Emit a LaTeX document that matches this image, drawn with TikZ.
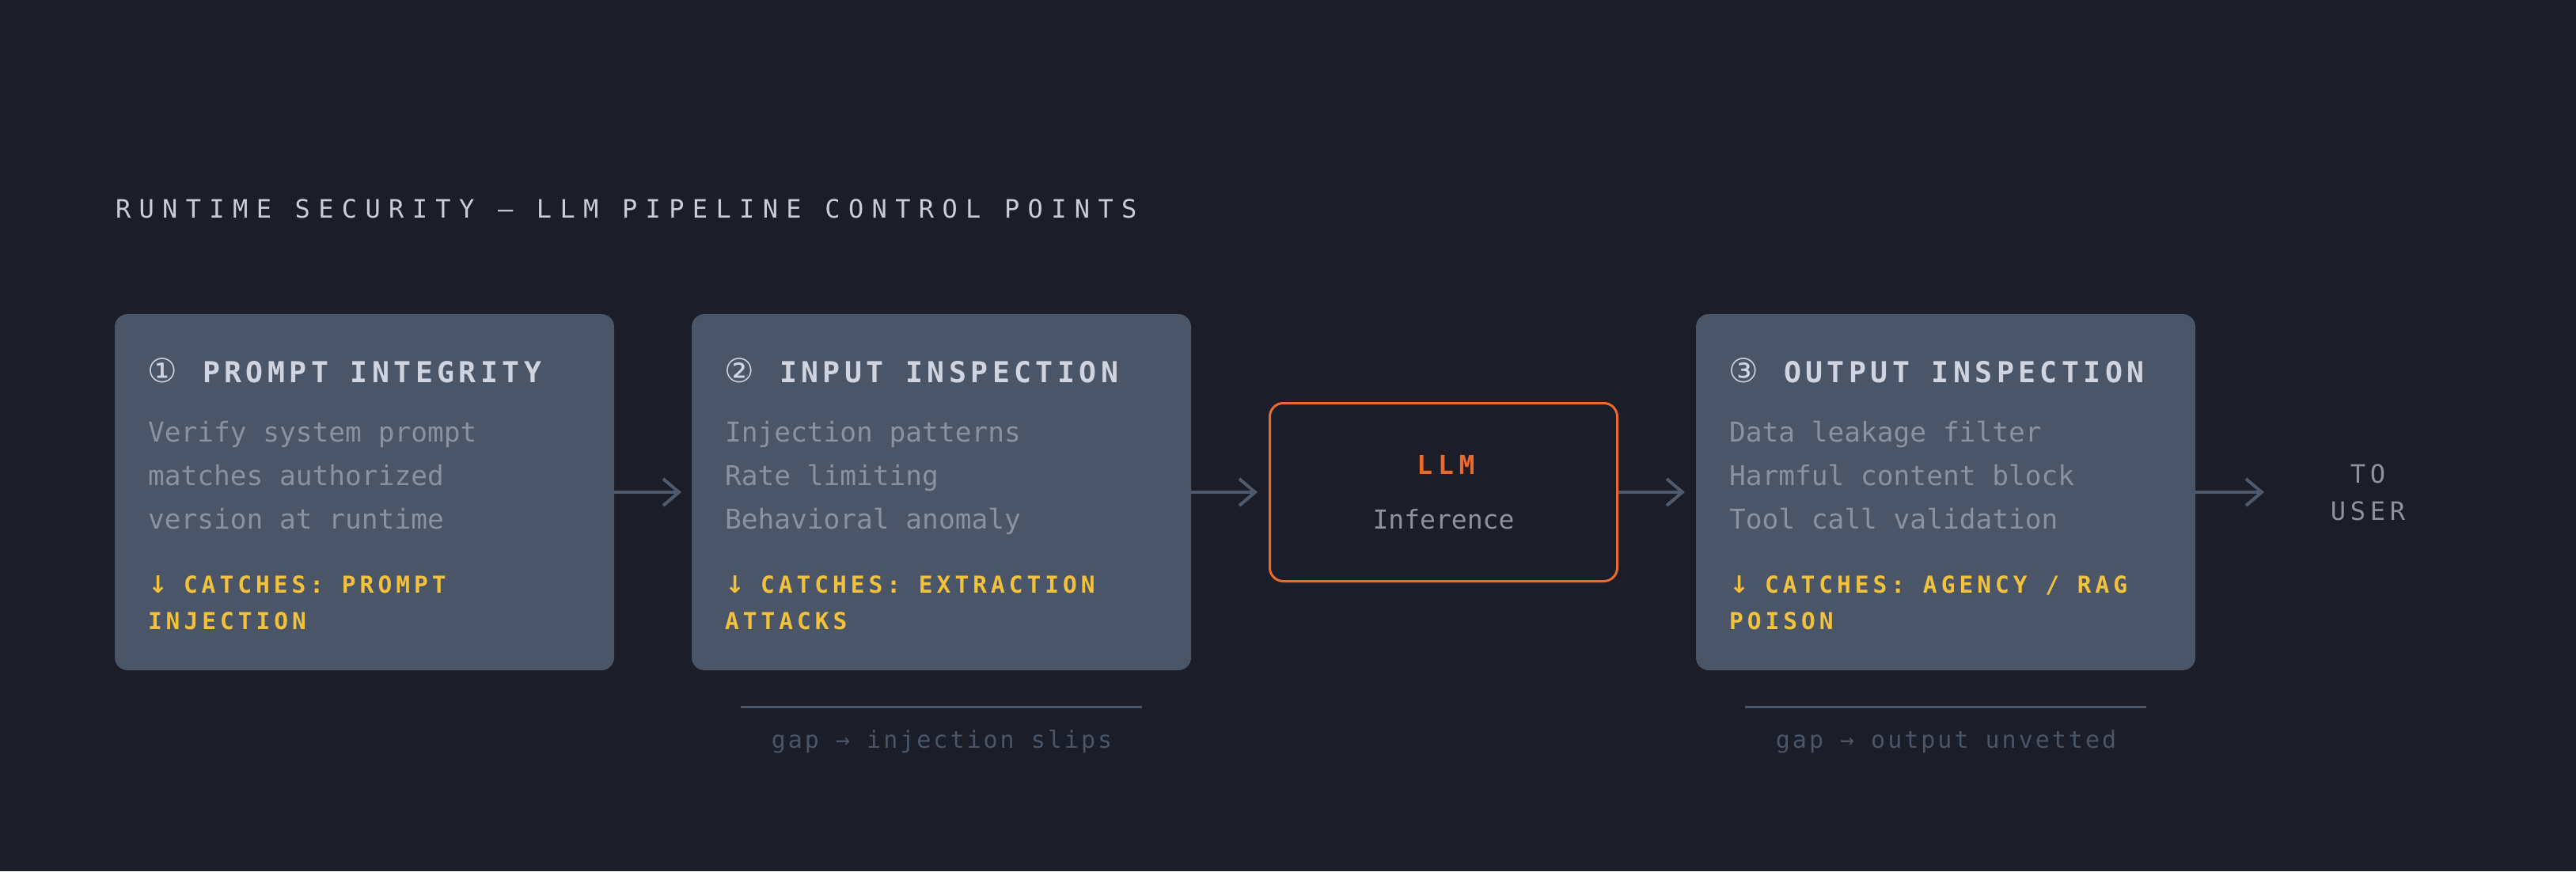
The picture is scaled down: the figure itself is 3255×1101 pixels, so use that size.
\documentclass[tikz,border=0pt]{standalone}
\usepackage{fontspec}
\usetikzlibrary{arrows.meta}
\newfontfamily\titlef[LetterSpace=32.4]{DejaVu Sans Mono}
\newfontfamily\headf[LetterSpace=15]{DejaVu Sans Mono}
\newfontfamily\bodyf{DejaVu Sans Mono}
\newfontfamily\catchf[LetterSpace=17]{DejaVu Sans Mono}
\newfontfamily\llmf[LetterSpace=20.6]{DejaVu Sans Mono}
\newfontfamily\userf[LetterSpace=17.8]{DejaVu Sans Mono}
\newfontfamily\gapf[LetterSpace=10]{DejaVu Sans Mono}
\newfontfamily\circf{DejaVu Sans}
\definecolor{bgc}{HTML}{1B1D29}
\definecolor{boxc}{HTML}{4A5568}
\definecolor{titlec}{HTML}{C9CDD9}
\definecolor{headc}{HTML}{D0D4E0}
\definecolor{bodyc}{HTML}{8B919F}
\definecolor{yelc}{HTML}{F2C23C}
\definecolor{orc}{HTML}{E86A2C}
\definecolor{arrc}{HTML}{4F5A6C}
\definecolor{gapc}{HTML}{4A5568}
\definecolor{infc}{HTML}{8E929E}
\newcommand{\circd}[1]{\makebox[70pt][l]{\circf\mdseries\fontsize{42pt}{42pt}\selectfont #1}}
\newcommand{\catchar}{\makebox[45pt][l]{\circf\bfseries\fontsize{30pt}{30pt}\selectfont ↓}}
\begin{document}
\begin{tikzpicture}[x=1pt,y=-1pt,
  txt/.style={anchor=base west, inner sep=0pt, outer sep=0pt},
  ctxt/.style={anchor=base, inner sep=0pt, outer sep=0pt},
  panel/.style={fill=boxc, rounded corners=16pt, minimum width=631pt, minimum height=450pt, inner sep=0pt, outer sep=0pt, anchor=north west},
  llmbox/.style={draw=orc, line width=3pt, rounded corners=17pt, minimum width=439pt, minimum height=225pt, inner sep=0pt, outer sep=1.5pt},
  titletxt/.style={txt, text=titlec, font=\titlef\fontsize{32pt}{38pt}\selectfont},
  headtxt/.style={txt, text=headc, font=\headf\bfseries\fontsize{36.5pt}{42pt}\selectfont},
  bodytxt/.style={txt, text=bodyc, font=\bodyf\fontsize{34.5pt}{40pt}\selectfont},
  catchtxt/.style={txt, text=yelc, font=\catchf\bfseries\fontsize{29.5pt}{34pt}\selectfont},
  gaptxt/.style={ctxt, text=gapc, font=\gapf\fontsize{30pt}{36pt}\selectfont},
  flow/.style={draw=arrc, line width=4pt, -{Straight Barb[length=20pt,width=34pt]}},
  gapline/.style={draw=gapc, line width=3pt}
]
\fill[bgc] (0,0) rectangle (3255,1101);
\useasboundingbox (0,0) rectangle (3255,1101);

\node[titletxt] (title) at (146,275) {RUNTIME SECURITY — LLM PIPELINE CONTROL POINTS};

% panels
\node[panel] (b1) at (145,397) {};
\node[panel] (b2) at (874,397) {};
\node[panel] (b3) at (2143,397) {};
\node[llmbox] (llm) at (1824,622) {};

% box 1
\node[headtxt] (h1) at (186,483) {\circd{①}PROMPT INTEGRITY};
\node[bodytxt] (p1a) at (187,558) {Verify system prompt};
\node[bodytxt] (p1b) at (187,613) {matches authorized};
\node[bodytxt] (p1c) at (187,668) {version at runtime};
\node[catchtxt] (c1a) at (187,749) {\catchar CATCHES: PROMPT};
\node[catchtxt] (c1b) at (187,795) {INJECTION};

% box 2
\node[headtxt] (h2) at (915,483) {\circd{②}INPUT INSPECTION};
\node[bodytxt] (p2a) at (916,558) {Injection patterns};
\node[bodytxt] (p2b) at (916,613) {Rate limiting};
\node[bodytxt] (p2c) at (916,668) {Behavioral anomaly};
\node[catchtxt] (c2a) at (916,749) {\catchar CATCHES: EXTRACTION};
\node[catchtxt] (c2b) at (916,795) {ATTACKS};

% box 3
\node[headtxt] (h3) at (2184,483) {\circd{③}OUTPUT INSPECTION};
\node[bodytxt] (p3a) at (2185,558) {Data leakage filter};
\node[bodytxt] (p3b) at (2185,613) {Harmful content block};
\node[bodytxt] (p3c) at (2185,668) {Tool call validation};
\node[catchtxt] (c3a) at (2185,749) {\catchar CATCHES: AGENCY / RAG};
\node[catchtxt] (c3b) at (2185,795) {POISON};

% LLM
\node[ctxt, text=orc, font=\llmf\bfseries\fontsize{33pt}{38pt}\selectfont] (llmt) at (1827,599) {LLM};
\node[ctxt, text=infc, font=\bodyf\fontsize{33pt}{38pt}\selectfont] (inft) at (1824,668) {Inference};

% to user
\node[ctxt, text=infc, font=\userf\fontsize{32pt}{38pt}\selectfont] (tot) at (2992,610) {TO};
\node[ctxt, text=infc, font=\userf\fontsize{32pt}{38pt}\selectfont] (user) at (2992,657) {USER};

% arrows
\draw[flow, shorten >=13pt] (b1.east) -- (b2.west);
\draw[flow, shorten >=14pt] (b2.east) -- (llm.west);
\draw[flow, shorten >=14pt] (llm.east) -- (b3.west);
\coordinate (uend) at (2861,622);
\draw[flow] (b3.east) -- (uend);

% gaps
\coordinate (g1a) at (936,893);
\coordinate (g1b) at (1443,893);
\coordinate (g2a) at (2205,893);
\coordinate (g2b) at (2712,893);
\draw[gapline] (g1a) -- (g1b);
\draw[gapline] (g2a) -- (g2b);
\node[gaptxt] (gt1) at (1190,945) {gap → injection slips};
\node[gaptxt] (gt2) at (2459,945) {gap → output unvetted};
\end{tikzpicture}
\end{document}
